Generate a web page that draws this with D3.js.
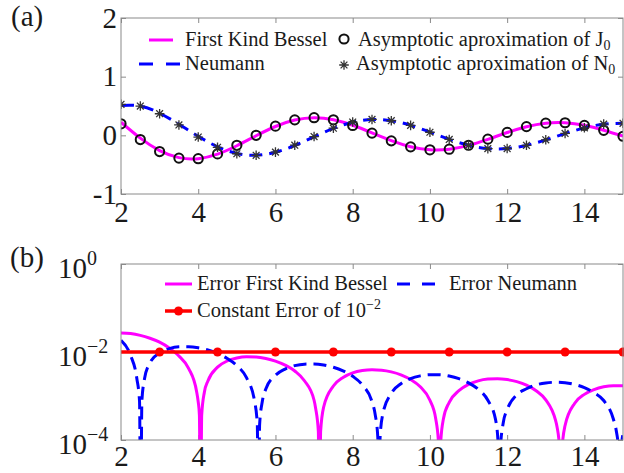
<!DOCTYPE html>
<html>
<head>
<meta charset="utf-8">
<script src="https://cdn.jsdelivr.net/npm/d3@7"></script>
<style>
body { margin: 0; background: #fff; }
svg { display: block; }
text { font-family: "Liberation Serif", "Times New Roman", serif; fill: #1a1a1a; }
</style>
</head>
<body>
<div id="chart"></div>
<script>
// sample points of panel (a)
var xs = [2, 2.5, 3, 3.5, 4, 4.5, 5, 5.5, 6, 6.5, 7, 7.5, 8, 8.5, 9, 9.5,
	10, 10.5, 11, 11.5, 12, 12.5, 13, 13.5, 14, 14.5, 15];
var besselJ = [0.2239, -0.0484, -0.2601, -0.3801, -0.3972, -0.3205, -0.1776, -0.0068, 0.1506,
	0.2601, 0.3001, 0.2663, 0.1717, 0.0419, -0.0903, -0.1939, -0.2459, -0.2366, -0.1712,
	-0.0677, 0.0477, 0.1469, 0.2069, 0.2150, 0.1711, 0.0875, -0.0142];
var neumannY = [0.5104, 0.4981, 0.3769, 0.1890, -0.0169, -0.1947, -0.3085, -0.3395, -0.2882,
	-0.1732, -0.0260, 0.1173, 0.2235, 0.2702, 0.2499, 0.1714, 0.0557, -0.0675, -0.1689,
	-0.2252, -0.2252, -0.1713, -0.0782, 0.0301, 0.1272, 0.1903, 0.2055];
var asympJ = [0.1968, -0.0723, -0.2767, -0.3882, -0.3979, -0.3161, -0.1701, 0.0008, 0.1568,
	0.2637, 0.3009, 0.2647, 0.1685, 0.0380, -0.0938, -0.1962, -0.2468, -0.2360, -0.1694,
	-0.0653, 0.0500, 0.1486, 0.2077, 0.2148, 0.1700, 0.0860, -0.0159];
var asympY = [0.5288, 0.4994, 0.3683, 0.1766, -0.0291, -0.2039, -0.3137, -0.3402, -0.2855,
	-0.1685, -0.0207, 0.1218, 0.2263, 0.2710, 0.2489, 0.1689, 0.0526, -0.0704, -0.1709,
	-0.2261, -0.2248, -0.1699, -0.0763, 0.0321, 0.1287, 0.1911, 0.2054];

// panel (b): absolute errors (1e-6 marks a zero of the error)
var errJx = [2, 2.25, 2.5, 2.75, 3, 3.25, 3.5, 3.75, 3.96, 4.0, 4.03, 4.06, 4.09, 4.16, 4.25,
	4.5, 4.75, 5, 5.25, 5.5, 5.75, 6, 6.25, 6.5, 6.75, 7, 7.04, 7.11, 7.14, 7.17, 7.25,
	7.5, 7.75, 8, 8.25, 8.5, 8.75, 9, 9.25, 9.5, 9.75, 10, 10.15, 10.22, 10.25, 10.28, 10.35,
	10.5, 10.75, 11, 11.25, 11.5, 11.75, 12, 12.25, 12.5, 12.75, 13, 13.25, 13.29, 13.36,
	13.39, 13.42, 13.5, 13.75, 14, 14.25, 14.5, 14.75, 15];
var errJ = [0.0271, 0.0263, 0.0239, 0.0205, 0.0167, 0.0123, 0.0081, 0.00425, 0.00124, 0.00073,
	0.00037, 1e-6, 0.00037, 0.00124, 0.0022, 0.00453, 0.00624, 0.00731, 0.00778, 0.0077,
	0.00714, 0.00622, 0.00504, 0.0037, 0.00222, 0.0008, 0.000527, 0.000158, 1e-6, 0.000158,
	0.00057, 0.00169, 0.00264, 0.00335, 0.00378, 0.00394, 0.00385, 0.00353, 0.00302, 0.00236,
	0.00162, 0.0008, 0.000304, 0.0000912, 1e-6, 0.0000912, 0.000304, 0.00072, 0.00132,
	0.00184, 0.00221, 0.00242, 0.00247, 0.00236, 0.00212, 0.00177, 0.00132, 0.000818,
	0.000285, 0.000203, 0.0000612, 1e-6, 0.000061, 0.000214, 0.000686, 0.00109, 0.0014,
	0.00162, 0.00172, 0.00172];
var errNx = [2, 2.25, 2.41, 2.48, 2.51, 2.54, 2.61, 2.75, 3, 3.25, 3.5, 3.75, 4, 4.25, 4.5,
	4.75, 5, 5.25, 5.46, 5.53, 5.56, 5.59, 5.66, 5.75, 6, 6.25, 6.5, 6.75, 7, 7.25, 7.5,
	7.75, 8, 8.25, 8.5, 8.58, 8.65, 8.68, 8.71, 8.78, 9, 9.25, 9.5, 9.75, 10, 10.25, 10.5,
	10.75, 11, 11.25, 11.5, 11.7, 11.77, 11.8, 11.83, 11.9, 12, 12.25, 12.5, 12.75, 13,
	13.25, 13.5, 13.75, 14, 14.25, 14.5, 14.75, 14.82, 14.89, 14.92, 14.95, 15];
var errN = [0.0184, 0.0083, 0.0025, 0.00075, 1e-6, 0.00075, 0.0025, 0.0057, 0.0095, 0.0119,
	0.0131, 0.0132, 0.0125, 0.0111, 0.0093, 0.0071, 0.0049, 0.0026, 0.00076, 0.000227, 1e-6,
	0.000227, 0.00076, 0.00145, 0.00296, 0.0041, 0.0049, 0.0053, 0.00534, 0.00507, 0.00451,
	0.00373, 0.0028, 0.00178, 0.00074, 0.00039, 0.000117, 1e-6, 0.000117, 0.00039, 0.00115,
	0.0019, 0.00249, 0.00287, 0.00305, 0.00304, 0.00284, 0.00248, 0.00199, 0.00142, 0.0008,
	0.00029, 0.0000737, 1e-6, 0.0000737, 0.00025, 0.00049, 0.00107, 0.00146, 0.00179,
	0.00198, 0.00205, 0.002, 0.00183, 0.00155, 0.00119, 0.00079, 0.0003, 0.000173, 0.000052,
	1e-6, 0.000052, 0.000138];
var constLevel = 1e-2;
var constMarkX = [3, 4.5, 6, 7.5, 9, 10.5, 12, 13.5, 15];

var xTicks = [2, 4, 6, 8, 10, 12, 14];
var yTicksA = [-1, 0, 1, 2];
var yTicksB = [1e-4, 1e-2, 1];
var yTickExp = ["\u22124", "\u22122", "0"];

var width = 624, height = 473;
var left = 121, right = 623;
var gray = "#8a8a8a";
var magenta = "#ff00ff", blue = "#0000ff", red = "#ff0000";
var legendSize = "20.5px", subSize = "14px";

var svg = d3.select("#chart").append("svg")
	.attr("width", width)
	.attr("height", height);

var x = d3.scaleLinear().domain([2, 15]).range([left, right]);
var yA = d3.scaleLinear().domain([-1, 2]).range([194, 18]);
var yB = d3.scaleLog().domain([1e-4, 1]).range([440, 264]);

function clip(id, y) {
	svg.append("clipPath").attr("id", id)
		.append("rect")
		.attr("x", left).attr("y", y.range()[1])
		.attr("width", right - left).attr("height", y.range()[0] - y.range()[1]);
}

function frame(y) {
	svg.append("rect")
		.attr("x", left).attr("y", y.range()[1])
		.attr("width", right - left).attr("height", y.range()[0] - y.range()[1])
		.attr("fill", "none")
		.attr("stroke", gray)
		.attr("stroke-width", 1);
}

function styleAxis(g) {
	g.select(".domain").remove();
	g.selectAll(".tick line").attr("stroke", gray);
	g.selectAll(".tick text")
		.attr("fill", "#1a1a1a")
		.style("font-family", "'Liberation Serif', serif")
		.style("font-size", "29px");
}

// x axes, ticks pointing inwards
function xAxes(y, pad) {
	svg.append("g")
		.attr("transform", "translate(0," + y.range()[0] + ")")
		.call(d3.axisBottom(x).tickValues(xTicks).tickSize(-5).tickPadding(pad).tickFormat(d3.format("d")))
		.call(styleAxis);
	svg.append("g")
		.attr("transform", "translate(0," + y.range()[1] + ")")
		.call(d3.axisTop(x).tickValues(xTicks).tickSize(-5).tickFormat(""))
		.call(styleAxis);
}

clip("clipA", yA);
clip("clipB", yB);

// ---------- panel (a) ----------
xAxes(yA, 7);
svg.append("g")
	.attr("transform", "translate(" + left + ",0)")
	.call(d3.axisLeft(yA).tickValues(yTicksA).tickSize(-5).tickPadding(4).tickFormat(function(d) { return String(d); }))
	.call(styleAxis);
svg.append("g")
	.attr("transform", "translate(" + right + ",0)")
	.call(d3.axisRight(yA).tickValues(yTicksA).tickSize(-5).tickFormat(""))
	.call(styleAxis);

var lineA = function(vals) {
	return d3.line()
		.x(function(d, i) { return x(xs[i]); })
		.y(function(d) { return yA(d); })
		.curve(d3.curveNatural)(vals);
};

var plotA = svg.append("g").attr("clip-path", "url(#clipA)");
plotA.append("path")
	.attr("d", lineA(besselJ))
	.attr("fill", "none").attr("stroke", magenta).attr("stroke-width", 3);
plotA.append("path")
	.attr("d", lineA(neumannY))
	.attr("fill", "none").attr("stroke", blue).attr("stroke-width", 3)
	.attr("stroke-dasharray", "13,7");

plotA.selectAll(".circ").data(asympJ).enter().append("circle")
	.attr("cx", function(d, i) { return x(xs[i]); })
	.attr("cy", function(d) { return yA(d); })
	.attr("r", 4.6)
	.attr("fill", "none").attr("stroke", "#111").attr("stroke-width", 2);

var starPath = "M-4.8,0L4.8,0M0,-4.8L0,4.8M-3.4,-3.4L3.4,3.4M-3.4,3.4L3.4,-3.4";
plotA.selectAll(".star").data(asympY).enter().append("path")
	.attr("d", starPath)
	.attr("transform", function(d, i) { return "translate(" + x(xs[i]) + "," + yA(d) + ")"; })
	.attr("fill", "none").attr("stroke", "#333").attr("stroke-width", 1.3);

frame(yA);

// legend (a)
var legA = svg.append("g").style("font-size", legendSize);
legA.append("line").attr("x1", 149).attr("x2", 173).attr("y1", 40).attr("y2", 40)
	.attr("stroke", magenta).attr("stroke-width", 3);
legA.append("text").attr("x", 185).attr("y", 46).text("First Kind Bessel");
legA.append("line").attr("x1", 139).attr("x2", 181).attr("y1", 64).attr("y2", 64)
	.attr("stroke", blue).attr("stroke-width", 3).attr("stroke-dasharray", "14,13");
legA.append("text").attr("x", 185).attr("y", 70).text("Neumann");
legA.append("circle").attr("cx", 344).attr("cy", 39).attr("r", 4.6)
	.attr("fill", "none").attr("stroke", "#111").attr("stroke-width", 2);
var tJ = legA.append("text").attr("x", 358).attr("y", 46).text("Asymptotic aproximation of J");
tJ.append("tspan").attr("dy", 4).style("font-size", subSize).text("0");
legA.append("path").attr("d", starPath).attr("transform", "translate(344,65)")
	.attr("fill", "none").attr("stroke", "#333").attr("stroke-width", 1.3);
var tN = legA.append("text").attr("x", 356).attr("y", 70).text("Asymptotic aproximation of N");
tN.append("tspan").attr("dy", 4).style("font-size", subSize).text("0");

svg.append("text").attr("x", 11).attr("y", 26).style("font-size", "29px").text("(a)");

// ---------- panel (b) ----------
xAxes(yB, 5);
svg.append("g")
	.attr("transform", "translate(" + left + ",0)")
	.call(d3.axisLeft(yB).tickValues(yTicksB).tickSize(-5).tickFormat(""))
	.call(styleAxis);
svg.append("g")
	.attr("transform", "translate(" + right + ",0)")
	.call(d3.axisRight(yB).tickValues(yTicksB).tickSize(-5).tickFormat(""))
	.call(styleAxis);

// power of ten labels
var yLab = svg.append("g").selectAll("text").data(yTicksB).enter().append("text")
	.attr("x", 58)
	.attr("y", function(d) { return yB(d) + 14; })
	.style("font-size", "29px")
	.text("10");
yLab.append("tspan")
	.attr("dy", -13)
	.style("font-size", "20px")
	.text(function(d, i) { return yTickExp[i]; });

var lineB = function(xv, vals) {
	return d3.line()
		.x(function(d, i) { return x(xv[i]); })
		.y(function(d) { return yB(d); })
		.curve(d3.curveMonotoneX)(vals);
};

var plotB = svg.append("g").attr("clip-path", "url(#clipB)");
plotB.append("path")
	.attr("d", lineB(errJx, errJ))
	.attr("fill", "none").attr("stroke", magenta).attr("stroke-width", 3);
plotB.append("path")
	.attr("d", lineB(errNx, errN))
	.attr("fill", "none").attr("stroke", blue).attr("stroke-width", 3)
	.attr("stroke-dasharray", "13,7");
plotB.append("line")
	.attr("x1", x(2)).attr("x2", x(15))
	.attr("y1", yB(constLevel)).attr("y2", yB(constLevel))
	.attr("stroke", red).attr("stroke-width", 3.5);
svg.append("g").selectAll("circle").data(constMarkX).enter().append("circle")
	.attr("cx", function(d) { return x(d); })
	.attr("cy", yB(constLevel))
	.attr("r", 4.5)
	.attr("fill", red);

frame(yB);

// legend (b)
var legB = svg.append("g").style("font-size", legendSize);
legB.append("line").attr("x1", 165).attr("x2", 192).attr("y1", 284).attr("y2", 284)
	.attr("stroke", magenta).attr("stroke-width", 3);
legB.append("text").attr("x", 197).attr("y", 290).text("Error First Kind Bessel");
legB.append("line").attr("x1", 397).attr("x2", 443).attr("y1", 284).attr("y2", 284)
	.attr("stroke", blue).attr("stroke-width", 3).attr("stroke-dasharray", "13,12");
legB.append("text").attr("x", 449).attr("y", 290).text("Error Neumann");
legB.append("line").attr("x1", 165).attr("x2", 192).attr("y1", 311).attr("y2", 311)
	.attr("stroke", red).attr("stroke-width", 3.5);
legB.append("circle").attr("cx", 178.5).attr("cy", 311).attr("r", 4.5).attr("fill", red);
var tC = legB.append("text").attr("x", 197).attr("y", 317).text("Constant Error of 10");
tC.append("tspan").attr("dy", -8).style("font-size", subSize).text("\u22122");

svg.append("text").attr("x", 10).attr("y", 267).style("font-size", "29px").text("(b)");
</script>
</body>
</html>
